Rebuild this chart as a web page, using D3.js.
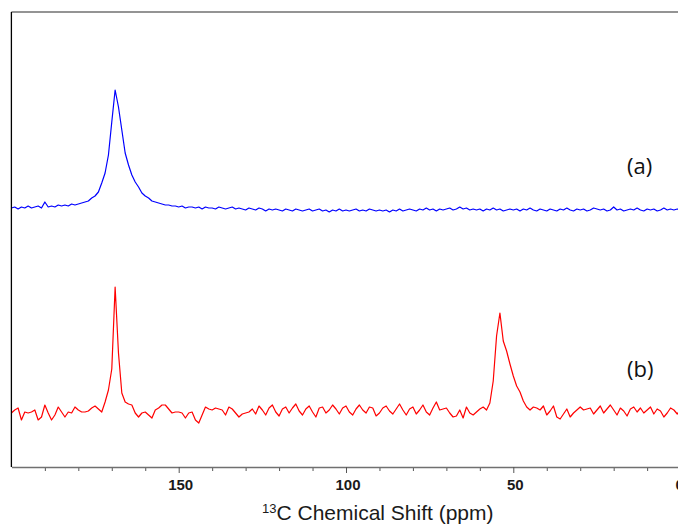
<!DOCTYPE html>
<html lang="en">
<head>
    <meta charset="UTF-8">
    <title>13C NMR spectra</title>
    <script src="https://d3js.org/d3.v7.min.js"></script>
    <style>
        body {
            margin: 0;
            background: #fff;
        }
        .tick-label {
            font: bold 15px "Liberation Sans", Arial, sans-serif;
            fill: #1a1a1a;
        }
        .trace {
            fill: none;
            stroke-width: 1.2px;
            stroke-linejoin: round;
        }
    </style>
</head>
<body>
<svg id="chart" width="678" height="524"></svg>

<script>
    // chemical shift grid, 1 ppm steps from 200 down to 0
    const ppm = d3.range(200, -1, -1);

    // trace (a), intensity above its own baseline
    const traceA = [
        2, 3, 1, 3, 2, 4, 2, 3, 4, 2,
        8, 3, 4, 3, 5, 4, 5, 4, 6, 5,
        6, 7, 8, 9, 12, 14, 18, 27, 37, 55,
        88, 120, 103, 80, 57, 45, 35, 28, 23, 17,
        14, 12, 9, 8, 7, 6, 5, 5, 4, 4,
        3, 4, 2, 3, 3, 2, 3, 1, 3, 2,
        2, 1, 3, 2, 1, 2, 3, 1, 2, 1,
        0, 2, 1, 0, 2, 1, -1, 1, 0, 1,
        0, -1, 1, 0, -1, 1, 0, -1, 0, 1,
        -1, 0, 1, -1, 0, -2, 0, -1, 1, -1,
        0, -1, 0, 1, -1, 0, -1, 1, 0, -1,
        0, -1, 0, -2, 0, -1, 1, -1, 0, 1,
        0, -1, 1, 0, 2, 0, 1, -1, 1, 0,
        1, 2, 0, 1, 3, 1, 2, 0, 1, 0,
        1, -1, 1, 0, 2, 0, 1, -1, 0, 1,
        0, 1, -1, 1, 0, 2, 0, -1, 1, 0,
        -1, 1, 0, -1, 1, 0, 2, 0, -1, 1,
        0, 1, -1, 0, 2, 1, 0, 1, -1, 0,
        3, 0, 1, -1, 0, 1, 0, 2, 0, -1,
        1, 0, 1, -1, 0, 2, 0, 1, 0, 1,
        0
    ];

    // trace (b), intensity above its own baseline
    const traceB = [
        -2, 1, 3, -9, -1, -2, -1, 1, -9, -6,
        6, -2, -9, -4, 4, -1, -6, -1, -2, 4,
        1, -1, -1, 0, 3, 5, 2, -1, 9, 21,
        42, 124, 58, 18, 9, 7, 6, -2, -6, -2,
        -1, -4, -7, 1, 3, 6, 6, 2, -2, -1,
        -1, -2, -7, -2, -1, -9, -12, -4, 4, 2,
        1, 3, 2, 1, -4, 4, 2, -2, -6, -3,
        -2, -1, 2, -3, 5, 1, -4, 3, 6, -1,
        -5, 2, 4, -2, 3, 7, 0, -4, 2, 5,
        -1, -6, 3, 4, -2, 1, 6, 2, -3, 3,
        5, -1, -4, 2, 6, 1, -2, 4, 3, -5,
        -2, 3, 5, 0, -3, 2, 7, 1, -4, 2,
        4, -3, 1, 6, -1, -4, 3, 9, 1, 2,
        3, -2, -6, -5, 1, -7, 4, -2, -4, -1,
        2, 4, 1, 8, 30, 75, 98, 70, 60, 47,
        35, 25, 19, 10, 4, 1, 4, 3, 1, 5,
        -4, 0, 5, -6, -8, -3, 2, -6, -2, 1,
        4, 1, 2, 3, -3, 1, 5, -2, 2, 6,
        1, -4, 3, 0, -5, 2, 4, -1, 3, -2,
        1, 4, -3, 2, 0, -6, -2, 3, 1, -3,
        2
    ];

    const majorTicks = [150, 100, 50, 0];
    const minorTicks = d3.range(190, 0, -10).filter(d => d % 50 !== 0);
    const labels = ["(a)", "(b)"];

    const svg = d3.select("#chart");

    // plot frame
    const plotLeft = 11.4, plotRight = 680.6, plotTop = 12, plotBottom = 467;

    const x = d3.scaleLinear().domain([200, 0]).range([plotLeft, plotRight]);
    const y = d3.scaleLinear().domain([-56, 399]).range([plotBottom, plotTop]);

    // vertical stacking of the two traces
    const offsetA = 201, offsetB = 0;

    svg.append("defs").append("clipPath").attr("id", "plot")
        .append("rect")
        .attr("x", plotLeft).attr("y", plotTop)
        .attr("width", plotRight - plotLeft).attr("height", plotBottom - plotTop);

    const line = off => d3.line()
        .x((d, i) => x(ppm[i]))
        .y(d => y(d + off));

    const g = svg.append("g").attr("clip-path", "url(#plot)");

    g.append("path")
        .datum(traceA)
        .attr("class", "trace")
        .attr("stroke", "#0000ff")
        .attr("d", line(offsetA));

    g.append("path")
        .datum(traceB)
        .attr("class", "trace")
        .attr("stroke", "#ff0000")
        .attr("d", line(offsetB));

    // frame lines: grey top, black left
    svg.append("line")
        .attr("x1", plotLeft).attr("x2", 678)
        .attr("y1", plotTop).attr("y2", plotTop)
        .attr("stroke", "#707070").attr("stroke-width", 1.5);

    svg.append("line")
        .attr("x1", plotLeft).attr("x2", plotLeft)
        .attr("y1", plotTop).attr("y2", plotBottom)
        .attr("stroke", "#000").attr("stroke-width", 1.3);

    // bottom axis, minor ticks first
    const minorAxis = svg.append("g")
        .attr("transform", `translate(0,${plotBottom})`)
        .call(d3.axisBottom(x).tickValues(minorTicks).tickSize(4).tickSizeOuter(0).tickFormat(""));
    minorAxis.select(".domain").remove();
    minorAxis.selectAll("line").attr("stroke", "#555");

    const majorAxis = svg.append("g")
        .attr("transform", `translate(0,${plotBottom})`)
        .call(d3.axisBottom(x).tickValues(majorTicks).tickSize(6).tickSizeOuter(0));
    majorAxis.select(".domain")
        .attr("stroke", "#707070").attr("stroke-width", 1.5);
    majorAxis.selectAll("line").attr("stroke", "#555");
    majorAxis.selectAll("text")
        .attr("class", "tick-label")
        .attr("y", 23).attr("dy", 0)
        .attr("dx", d => d === 0 ? -1.5 : 1.5);

    // axis title with superscript 13
    const title = svg.append("text")
        .attr("x", 262).attr("y", 520)
        .style("font-family", "'Liberation Sans', Arial, sans-serif")
        .style("fill", "#1a1a1a");
    title.append("tspan").text("13").style("font-size", "13px").attr("dy", -7);
    title.append("tspan").text("C Chemical Shift (ppm)").style("font-size", "21px").attr("dy", 7);

    // trace labels
    svg.selectAll(".trace-label")
        .data(labels)
        .enter().append("text")
        .attr("class", "trace-label")
        .attr("x", 627)
        .attr("y", (d, i) => i === 0 ? 174 : 377)
        .style("font", "22px 'Open Sans', sans-serif")
        .style("fill", "#111")
        .text(d => d);
</script>
</body>
</html>
